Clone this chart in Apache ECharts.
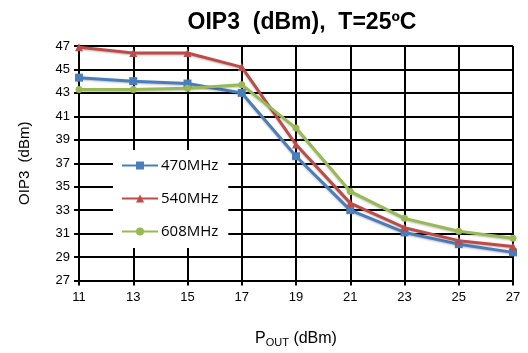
<!DOCTYPE html>
<html><head><meta charset="utf-8">
<script src="https://cdn.jsdelivr.net/npm/echarts@6/dist/echarts.min.js"></script>
<style>html,body{margin:0;padding:0;background:#fff}#c{width:528px;height:353px}</style>
</head><body><div id="c"></div>
<script>
var categories = ['11','13','15','17','19','21','23','25','27'];
var s470 = [44.3, 44.0, 43.8, 43.0, 37.6, 33.0, 31.1, 30.1, 29.4];
var s540 = [46.9, 46.4, 46.4, 45.2, 38.6, 33.6, 31.5, 30.4, 29.9];
var s608 = [43.3, 43.3, 43.4, 43.7, 40.0, 34.6, 32.3, 31.2, 30.6];
var seriesNames = ['470MHz','540MHz','608MHz'];
var yTicks = {min: 27, max: 47, interval: 2};

var chart = echarts.init(document.getElementById('c'));
var font = 'Arial, "Liberation Sans", sans-serif';
function mk(name, data, color, symbol, size){
  return {name:name, type:'line', data:data, color:color, symbol:symbol, symbolSize:size,
    lineStyle:{width:3, color:color, shadowColor:'rgba(0,0,0,0.25)', shadowBlur:2, shadowOffsetY:1},
    itemStyle:{color:color}, z:3};
}
chart.setOption({
  animation:false,
  textStyle:{fontFamily:font},
  title:{text:'OIP3  (dBm),  T=25ºC', left:297, textAlign:'center', top:6,
    textStyle:{fontSize:23, fontWeight:'bold', color:'#000', fontFamily:font}},
  grid:{left:79, right:15, top:46, bottom:66, show:false},
  legend:{orient:'vertical', left:113, top:150, backgroundColor:'#fff',
    padding:[8,10,9,8], itemGap:18, itemWidth:36, itemHeight:10,
    textStyle:{fontSize:15, color:'#000', fontFamily:'"Open Sans", Arial, sans-serif', padding:[0,0,0,-2]},
    data:seriesNames, z:10},
  xAxis:{type:'category', data:categories, boundaryGap:false,
    axisLine:{lineStyle:{color:'#000', width:2}},
    axisTick:{show:true, length:5, lineStyle:{color:'#000', width:2}},
    axisLabel:{fontSize:13, color:'#000', margin:10},
    splitLine:{show:true, lineStyle:{color:'#000', width:2}},
    name:'{a|P}{b|OUT}{a| (dBm)}', nameLocation:'middle', nameGap:48,
    nameTextStyle:{rich:{a:{fontSize:16, color:'#000', fontFamily:font, lineHeight:20},
      b:{fontSize:11, color:'#000', fontFamily:font, lineHeight:20, padding:[8,0,0,0]}}}},
  yAxis:{type:'value', min:yTicks.min, max:yTicks.max, interval:yTicks.interval,
    axisLine:{show:true, lineStyle:{color:'#000', width:2}},
    axisTick:{show:true, length:5, lineStyle:{color:'#000', width:2}},
    axisLabel:{fontSize:13, color:'#000', margin:9},
    splitLine:{show:true, lineStyle:{color:'#000', width:2}},
    name:'OIP3  (dBm)', nameLocation:'middle', nameGap:47, nameRotate:90,
    nameTextStyle:{fontSize:15, color:'#000', fontFamily:font}},
  series:[
    mk(seriesNames[0], s470, '#4a7ebb', 'rect', 8),
    mk(seriesNames[1], s540, '#be4b48', 'triangle', 8),
    mk(seriesNames[2], s608, '#98b954', 'circle', 7)
  ]
});
</script></body></html>
